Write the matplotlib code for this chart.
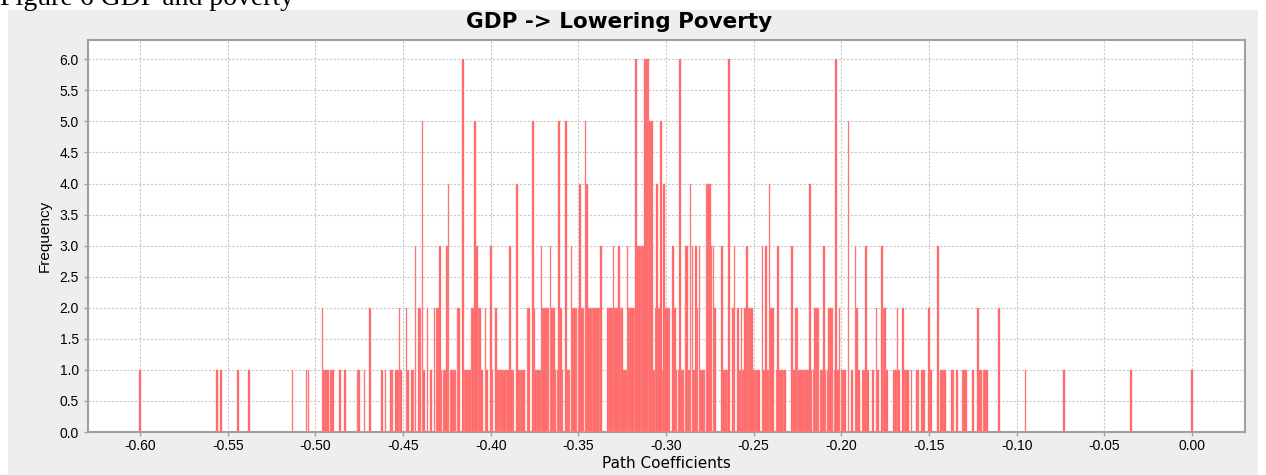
import numpy as np
import matplotlib.pyplot as plt
from matplotlib.patches import Rectangle

# Bootstrap path coefficients (bin centres) and how often each one occurs
left_coef = [-0.600, -0.556, -0.554, -0.544, -0.538, -0.513, -0.505, -0.504,
             -0.496, -0.495, -0.494, -0.493, -0.491, -0.490, -0.486, -0.483,
             -0.476, -0.475, -0.472, -0.469, -0.462, -0.460, -0.457, -0.456,
             -0.454, -0.453, -0.452, -0.451, -0.448, -0.447, -0.445, -0.444,
             -0.443, -0.441, -0.440, -0.439, -0.438, -0.436, -0.434, -0.432,
             -0.431, -0.430, -0.429, -0.428, -0.427, -0.426, -0.425, -0.424,
             -0.423, -0.422, -0.421, -0.420, -0.419, -0.418, -0.416, -0.415,
             -0.414, -0.413, -0.412, -0.411, -0.410, -0.409, -0.408, -0.407,
             -0.406, -0.405, -0.403, -0.402, -0.400, -0.399, -0.397, -0.396,
             -0.395, -0.394, -0.393, -0.392, -0.391, -0.390, -0.389, -0.388,
             -0.387, -0.385, -0.384, -0.383, -0.382, -0.381, -0.379, -0.378,
             -0.376, -0.375, -0.374, -0.373, -0.372, -0.371, -0.370, -0.369,
             -0.368, -0.367, -0.366, -0.365, -0.364, -0.363, -0.362, -0.361,
             -0.360, -0.359, -0.357, -0.356, -0.355, -0.354, -0.353, -0.352,
             -0.351, -0.350]
left_freq = [1, 1, 1, 1, 1, 1, 1, 1,
             2, 1, 1, 1, 1, 1, 1, 1,
             1, 1, 1, 2, 1, 1, 1, 1,
             1, 1, 2, 1, 2, 1, 1, 1,
             3, 2, 2, 5, 1, 2, 1, 2,
             2, 2, 3, 1, 1, 1, 3, 4,
             1, 1, 1, 1, 2, 2, 6, 1,
             1, 1, 1, 2, 2, 5, 3, 2,
             2, 1, 2, 1, 3, 1, 2, 1,
             1, 1, 1, 1, 1, 1, 3, 1,
             1, 4, 1, 1, 1, 1, 2, 2,
             5, 2, 1, 1, 1, 3, 2, 2,
             2, 2, 3, 2, 2, 1, 1, 5,
             2, 1, 5, 1, 1, 3, 2, 2,
             2, 2]

mid_coef = [-0.349, -0.348, -0.347, -0.346, -0.345, -0.344, -0.343, -0.342,
            -0.341, -0.340, -0.339, -0.338, -0.337, -0.333, -0.332, -0.331,
            -0.330, -0.329, -0.328, -0.327, -0.326, -0.325, -0.324, -0.323,
            -0.322, -0.321, -0.320, -0.319, -0.318, -0.317, -0.316, -0.315,
            -0.314, -0.313, -0.312, -0.311, -0.310, -0.309, -0.308, -0.307,
            -0.306, -0.305, -0.304, -0.303, -0.302, -0.301, -0.300, -0.299,
            -0.298, -0.296, -0.295, -0.294, -0.293, -0.292, -0.291, -0.290,
            -0.289, -0.288, -0.287, -0.286, -0.285, -0.284, -0.283, -0.282,
            -0.281, -0.280, -0.279, -0.278, -0.277, -0.276, -0.275, -0.274,
            -0.273, -0.272, -0.268, -0.267, -0.266, -0.265, -0.264, -0.262,
            -0.261, -0.259, -0.258, -0.257, -0.256, -0.255, -0.254, -0.253,
            -0.252, -0.251, -0.250]
mid_freq = [4, 2, 2, 5, 4, 2, 2, 2,
            2, 2, 2, 2, 3, 2, 2, 2,
            3, 2, 2, 3, 2, 2, 1, 1,
            3, 2, 2, 2, 2, 6, 3, 3,
            3, 3, 6, 6, 6, 5, 5, 1,
            2, 4, 2, 5, 1, 4, 2, 2,
            2, 3, 2, 1, 1, 6, 1, 1,
            3, 3, 1, 4, 3, 1, 3, 2,
            3, 1, 1, 1, 4, 4, 4, 3,
            3, 2, 3, 1, 1, 1, 6, 2,
            3, 2, 1, 2, 1, 2, 3, 2,
            2, 2, 1]

right_coef = [-0.249, -0.248, -0.247, -0.245, -0.244, -0.243, -0.242, -0.241,
              -0.240, -0.239, -0.237, -0.236, -0.235, -0.234, -0.233, -0.232,
              -0.228, -0.227, -0.226, -0.225, -0.224, -0.223, -0.222, -0.221,
              -0.220, -0.219, -0.218, -0.217, -0.216, -0.215, -0.214, -0.213,
              -0.212, -0.211, -0.210, -0.209, -0.208, -0.207, -0.206, -0.205,
              -0.204, -0.203, -0.202, -0.201, -0.200, -0.199, -0.198, -0.196,
              -0.194, -0.192, -0.191, -0.190, -0.188, -0.187, -0.186, -0.185,
              -0.182, -0.180, -0.179, -0.177, -0.176, -0.175, -0.174, -0.170,
              -0.169, -0.168, -0.167, -0.165, -0.164, -0.163, -0.162, -0.160,
              -0.157, -0.156, -0.154, -0.153, -0.150, -0.149, -0.145, -0.143,
              -0.142, -0.141, -0.137, -0.136, -0.134, -0.131, -0.130, -0.129,
              -0.125, -0.122, -0.121, -0.120, -0.119, -0.118, -0.117, -0.110,
              -0.095, -0.073, -0.035, 0.000]
right_freq = [1, 1, 1, 3, 1, 3, 1, 4,
              2, 2, 1, 3, 1, 1, 1, 1,
              3, 1, 2, 2, 1, 1, 1, 1,
              1, 1, 4, 1, 1, 2, 2, 2,
              1, 1, 3, 1, 1, 2, 2, 2,
              1, 6, 1, 2, 1, 1, 1, 5,
              1, 3, 2, 1, 1, 1, 3, 1,
              1, 2, 1, 3, 2, 2, 1, 1,
              1, 2, 1, 2, 1, 1, 1, 1,
              1, 1, 1, 1, 2, 1, 3, 1,
              1, 1, 1, 1, 1, 1, 1, 1,
              1, 2, 1, 1, 1, 1, 1, 2,
              1, 1, 1, 1]

coef = np.array(left_coef + mid_coef + right_coef)
freq = np.array(left_freq + mid_freq + right_freq)

x_ticks = np.arange(-0.60, 0.001, 0.05)
y_ticks = np.arange(0, 6.01, 0.5)

plt.rcParams['font.family'] = ['Liberation Sans', 'DejaVu Sans']

fig = plt.figure(figsize=(12.66, 4.75), dpi=100, facecolor='white')

# grey panel behind the chart
fig.patches.append(Rectangle((8 / 1266, 0), 1250 / 1266, 1 - 10 / 475,
                             transform=fig.transFigure, facecolor='#eeeeee',
                             edgecolor='none', zorder=-10))
fig.text(0.0, 1 - 5 / 475, 'Figure 6 GDP and poverty', family='Liberation Serif',
         fontsize=20, ha='left', va='baseline')

# chart title sits in the middle of the grey panel
fig.text(619 / 1266, 1 - 22 / 475, 'GDP -> Lowering Poverty', family='DejaVu Sans',
         fontsize=15.5, fontweight='bold', ha='center', va='center')

ax = fig.add_axes([88 / 1266, 1 - 432 / 475, 1157 / 1266, 392 / 475])
ax.set_facecolor('white')
ax.bar(coef, freq, width=0.00095, color='#ff6262', edgecolor='#ff9090',
       linewidth=0.3, zorder=3)

ax.set_xlim(-0.6297, 0.0302)
ax.set_ylim(0, 6.31)
ax.set_xticks(x_ticks)
ax.set_xticklabels(['%.2f' % t for t in x_ticks])
ax.set_yticks(y_ticks)
ax.set_yticklabels(['%.1f' % t for t in y_ticks])
ax.grid(True, color='#c8c8c8', linestyle=(0, (2, 1.5)), linewidth=0.8, zorder=0)
ax.set_axisbelow(True)

for side in ax.spines.values():
    side.set_color('#a0a0a0')
    side.set_linewidth(1.5)
ax.tick_params(axis='both', colors='#a0a0a0', labelcolor='black',
               labelsize=10, length=3, width=1)
ax.tick_params(axis='x', pad=2)

ax.set_xlabel('Path Coefficients', family='DejaVu Sans', fontsize=11, labelpad=2)
ax.set_ylabel('Frequency', fontsize=11, labelpad=6)

fig.savefig('out.png', dpi=100, facecolor=fig.get_facecolor())
